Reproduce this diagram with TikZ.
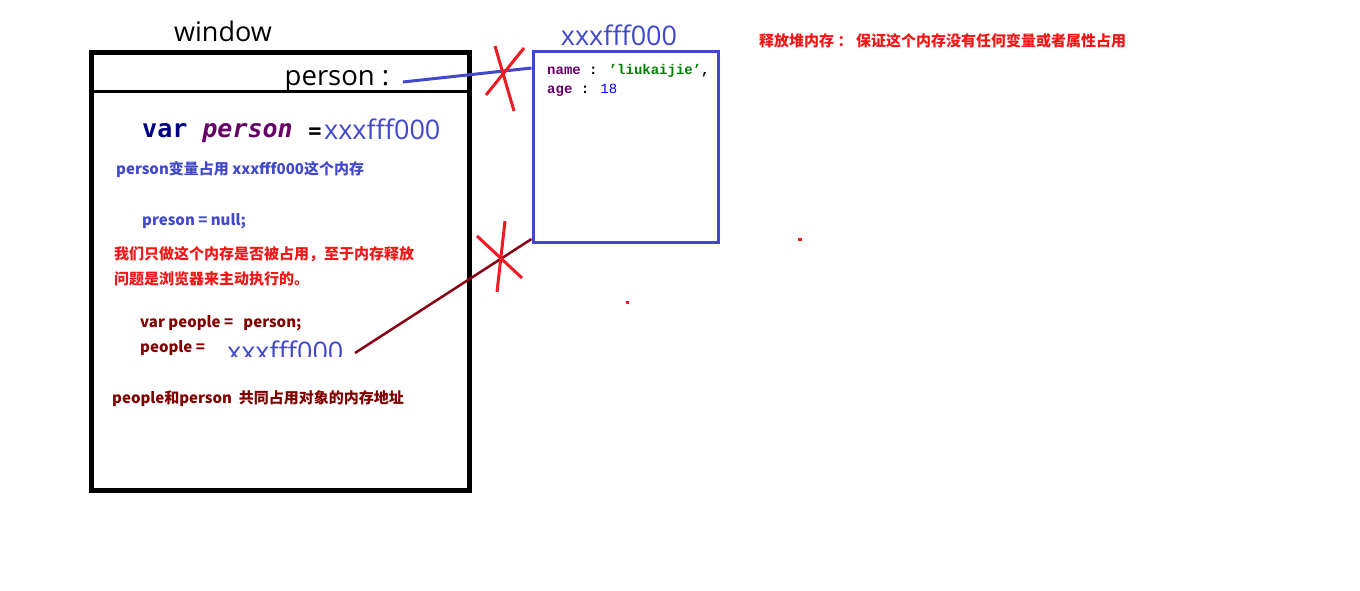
\documentclass[tikz,border=0pt]{standalone}
\usepackage{fontspec}
\setmainfont{Open Sans}
\newfontfamily\cjk{Noto Sans CJK SC}
\newfontfamily\codefont{DejaVu Sans Mono}
\newfontfamily\heapfont{Liberation Mono}
\definecolor{refblue}{RGB}{66,72,204}
\definecolor{crossred}{RGB}{237,28,36}
\definecolor{notered}{RGB}{242,22,22}
\definecolor{maroon}{RGB}{128,0,0}
\definecolor{linkmaroon}{RGB}{136,0,21}
\definecolor{navy}{RGB}{0,0,128}
\definecolor{keypurple}{RGB}{102,0,102}
\definecolor{strgreen}{RGB}{0,128,0}
\begin{document}
\begin{tikzpicture}[x=1pt,y=-1pt,
  big/.style={font=\fontsize{27}{30}\selectfont, inner sep=0},
  note/.style={font=\cjk\bfseries\fontsize{15}{17}\selectfont, inner sep=0, anchor=west},
  heapkey/.style={font=\heapfont\bfseries\fontsize{14}{16}\selectfont, inner sep=0, anchor=west},
  cross/.style={crossred, line width=3},
]
\useasboundingbox (0,0) rectangle (1360,591);

% the window object
\node[draw, line width=5, minimum width=377.5, minimum height=438, inner sep=0] (win) at (280.25,271.5) {};
\node[big] (wintitle) at (223,31) {window};
\draw[line width=3] (win.west |- 0,92) -- (win.east |- 0,92);
\node[big, font=\fontsize{27.5}{30}\selectfont] (prop) at (337,81) {person :};

% the heap object
\node[draw=refblue, line width=3, minimum width=185, minimum height=190, inner sep=0] (heap) at (625.5,147) {};
\node[big, text=refblue] (addr) at (619,35) {xxxfff000};
\node[heapkey] (name) at (547,71) {\color{keypurple}name \color{black}: \color{strgreen}’liukaijie’\color{black},};
\node[heapkey] (age) at (547,90) {\color{keypurple}age \color{black}: \mdseries\color{blue}18};

% release note
\node[note, text=notered] (release) at (759,41) {释放堆内存 ： 保证这个内存没有任何变量或者属性占用};

% code inside the window
\node[inner sep=0, anchor=west, font=\codefont\bfseries\fontsize{25}{27}\selectfont] (decl) at (142,133)
  {\color{navy}var \color{keypurple}\itshape person};
\node[inner sep=0, font=\codefont\bfseries\fontsize{22}{24}\selectfont] (eq) at (315,133) {=};
\node[big, anchor=west, text=refblue] (val1) at (324,129) {xxxfff000};
\node[note, text=refblue] (n1) at (116,170) {person变量占用 xxxfff000这个内存};
\node[note, text=refblue] (n2) at (142,221) {preson = null;};
\node[note, text=notered] (n3) at (114,254) {我们只做这个内存是否被占用，至于内存释放};
\node[note, text=notered] (n4) at (114,279) {问题是浏览器来主动执行的。};
\node[note, text=maroon] (n5) at (140,323) {var people =~~~person;};
\node[note, text=maroon] (n6) at (140,348) {people =};
\begin{scope}
  \clip (200,320) rectangle (360,356);
  \node[big, anchor=west, text=refblue] (val2) at (227,351) {xxxfff000};
\end{scope}
\node[note, text=maroon] (n7) at (112,399) {people和person~~共同占用对象的内存地址};

% references from the variables to the heap object
\coordinate (pfrom) at (403,82);
\draw[refblue, line width=3] (pfrom) -- (heap.west |- 0,68);
\coordinate (qfrom) at (355,353);
\draw[linkmaroon, line width=2.5] (qfrom) -- (heap.west |- 0,239);

% crossed-out references
\draw[cross] (495,46) -- (514,111);
\draw[cross] (524,48) -- (486,95);
\draw[cross] (505,221) -- (497,292);
\draw[cross] (477,236) -- (522,278);

% stray marks
\fill[crossred] (798,237.5) rectangle (802,240.5);
\fill[crossred] (626,300.5) rectangle (629,304);
\end{tikzpicture}
\end{document}
